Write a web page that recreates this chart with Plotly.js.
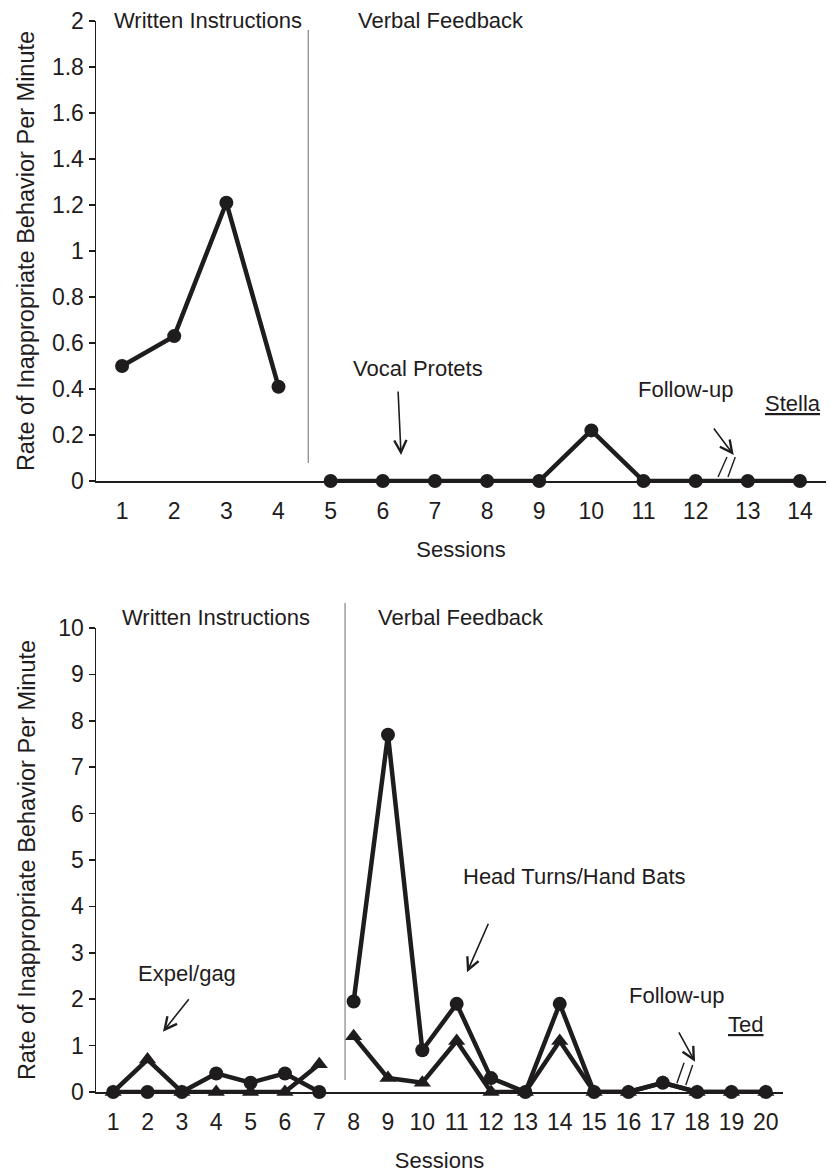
<!DOCTYPE html>
<html>
<head>
<meta charset="utf-8">
<script src="https://cdn.plot.ly/plotly-3.0.1.min.js"></script>
<style>html,body{margin:0;padding:0;background:#fff}#chart{width:830px;height:1173px}</style>
</head>
<body>
<div id="chart"></div>
<script>
// ---- Data ----
const stellaSessions = [1,2,3,4,5,6,7,8,9,10,11,12,13,14];
const stellaVocalProtests = [0.5,0.63,1.21,0.41,0,0,0,0,0,0.22,0,0,0,0];
const stellaBaselineCount = 4;

const tedSessions = [1,2,3,4,5,6,7,8,9,10,11,12,13,14,15,16,17,18,19,20];
const tedHeadTurnsHandBats = [0,0,0,0.4,0.2,0.4,0,1.95,7.7,0.9,1.9,0.3,0,1.9,0,0,0.2,0,0,0];
const tedExpelGag = [0,0.7,0,0,0,0,0.6,1.2,0.3,0.2,1.1,0,0,1.1,0,0,0.2,0,0,0];
const tedBaselineCount = 7;

const stellaYTicks = [0,0.2,0.4,0.6,0.8,1,1.2,1.4,1.6,1.8,2];
const stellaYTickText = ['0','0.2','0.4','0.6','0.8','1','1.2','1.4','1.6','1.8','2'];
const tedYTicks = [0,1,2,3,4,5,6,7,8,9,10];
const tedYTickText = ['0','1','2','3','4','5','6','7','8','9','10'];

const yTitle = 'Rate of Inappropriate Behavior Per Minute';
const xTitle = 'Sessions';

// ---- Styling helpers ----
const W = 830, H = 1173;
const px = v => v / W;
const py = v => 1 - v / H;
const ink = '#1f1c1d';
const FONT = 'Liberation Sans, Arial, Helvetica, sans-serif';

function seg(xs, ys, from, to, symbol, xa, ya, name) {
  return {
    type: 'scatter', mode: 'lines+markers', name: name,
    x: xs.slice(from, to), y: ys.slice(from, to),
    xaxis: xa, yaxis: ya, cliponaxis: false,
    line: {color: ink, width: 4.5},
    marker: {symbol: symbol, size: symbol === 'circle' ? 14 : 15, color: ink},
    hoverinfo: 'x+y'
  };
}

const traces = [
  seg(stellaSessions, stellaVocalProtests, 0, stellaBaselineCount, 'circle', 'x', 'y', 'Vocal Protests'),
  seg(stellaSessions, stellaVocalProtests, stellaBaselineCount, stellaSessions.length, 'circle', 'x', 'y', 'Vocal Protests'),
  seg(tedSessions, tedExpelGag, 0, tedBaselineCount, 'triangle-up', 'x2', 'y2', 'Expel/gag'),
  seg(tedSessions, tedExpelGag, tedBaselineCount, tedSessions.length, 'triangle-up', 'x2', 'y2', 'Expel/gag'),
  seg(tedSessions, tedHeadTurnsHandBats, 0, tedBaselineCount, 'circle', 'x2', 'y2', 'Head Turns/Hand Bats'),
  seg(tedSessions, tedHeadTurnsHandBats, tedBaselineCount, tedSessions.length, 'circle', 'x2', 'y2', 'Head Turns/Hand Bats')
];

const stellaBounds = stellaSessions.map(s => s - 0.5).concat([stellaSessions[stellaSessions.length-1] + 0.5]);
const tedBounds = tedSessions.map(s => s - 0.5).concat([tedSessions[tedSessions.length-1] + 0.5]);

const topDomainX = [px(96), px(826)];
const botDomainX = [px(96), px(783)];

const baseX = {
  showgrid: false, zeroline: false, showline: true, linecolor: ink, linewidth: 1.5,
  ticks: '', ticklabelstandoff: 9, tickfont: {size: 23, color: ink}, tickmode: 'array', fixedrange: true
};
const tickOverlay = {
  showgrid: false, zeroline: false, showline: false, showticklabels: false,
  ticks: 'outside', ticklen: 6, tickwidth: 1.5, tickcolor: ink, tickmode: 'array', fixedrange: true
};
const baseY = {
  showgrid: false, zeroline: false, showline: true, linecolor: ink, linewidth: 1.5,
  ticks: 'outside', ticklen: 6, tickwidth: 1.5, tickcolor: ink,
  tickfont: {size: 23, color: ink}, tickmode: 'array', fixedrange: true
};

function txt(t, x, y, size) {
  return {text: t, xref: 'paper', yref: 'paper', x: px(x), y: py(y),
    xanchor: 'center', yanchor: 'middle', showarrow: false,
    font: {size: size || 22, color: ink, family: FONT}};
}
function arrow(xref, yref, x, y, ax, ay) {
  return {text: '', xref: xref, yref: yref, x: x, y: y, ax: ax, ay: ay,
    showarrow: true, arrowhead: 5, arrowsize: 1.5, arrowwidth: 1.6, arrowcolor: ink};
}
function brk(xref, yref, x0, y0, x1, y1) {
  return {type: 'line', xref: xref, yref: yref, x0: x0, y0: y0, x1: x1, y1: y1,
    line: {color: ink, width: 1.4}};
}

const underlined = {size: 22, color: ink, family: FONT, lineposition: 'under'};

const annotations = [
  txt('Written Instructions', 208, 21),
  txt('Verbal Feedback', 441, 21),
  txt('Vocal Protets', 418, 368),
  txt('Follow-up', 685, 390),
  Object.assign(txt('Stella', 793, 403), {font: underlined}),
  txt('Written Instructions', 216, 617),
  txt('Verbal Feedback', 461, 617),
  txt('Expel/gag', 187, 973),
  txt('Head Turns/Hand Bats', 574, 876),
  txt('Follow-up', 676, 995),
  Object.assign(txt('Ted', 745, 1024), {font: underlined}),
  arrow('x', 'y', 6.35, 0.113, -3, -65),
  arrow('x', 'y', 12.73, 0.113, -21, -28),
  arrow('x2', 'y2', 2.45, 1.30, 27, -34),
  arrow('x2', 'y2', 11.3, 2.58, 22, -50),
  arrow('x2', 'y2', 17.94, 0.65, -17, -31)
];

const shapes = [
  {type: 'line', xref: 'x', yref: 'paper', x0: 4.57, x1: 4.57, y0: py(463), y1: py(30),
   line: {color: '#6b6b6b', width: 1}},
  {type: 'line', xref: 'x2', yref: 'paper', x0: 7.75, x1: 7.75, y0: py(1080), y1: py(603),
   line: {color: '#6b6b6b', width: 1}},
  brk('x', 'y', 12.43, 0.017, 12.6, 0.104),
  brk('x', 'y', 12.62, 0.017, 12.76, 0.104),
  brk('x2', 'y2', 17.41, 0.19, 17.62, 0.63),
  brk('x2', 'y2', 17.67, 0.15, 17.87, 0.58)
];

const layout = {
  width: W, height: H,
  margin: {l: 0, r: 0, t: 0, b: 0},
  paper_bgcolor: '#ffffff', plot_bgcolor: 'rgba(0,0,0,0)',
  showlegend: false,
  font: {family: FONT, color: ink},
  xaxis: Object.assign({}, baseX, {domain: topDomainX, range: [0.5, 14.5], anchor: 'y',
    tickvals: stellaSessions, ticktext: stellaSessions.map(String),
    title: {text: xTitle, font: {size: 22, color: ink}, standoff: 18}}),
  xaxis3: Object.assign({}, tickOverlay, {domain: topDomainX, range: [0.5, 14.5], anchor: 'y',
    overlaying: 'x', tickvals: stellaBounds}),
  yaxis: Object.assign({}, baseY, {domain: [1 - 481/H, 1 - 21/H], range: [0, 2], anchor: 'x',
    tickvals: stellaYTicks, ticktext: stellaYTickText,
    title: {text: yTitle, font: {size: 23.5, color: ink}, standoff: 10}}),
  xaxis2: Object.assign({}, baseX, {domain: botDomainX, range: [0.5, 20.5], anchor: 'y2',
    tickvals: tedSessions, ticktext: tedSessions.map(String),
    title: {text: xTitle, font: {size: 22, color: ink}, standoff: 18}}),
  xaxis4: Object.assign({}, tickOverlay, {domain: botDomainX, range: [0.5, 20.5], anchor: 'y2',
    overlaying: 'x2', tickvals: tedBounds}),
  yaxis2: Object.assign({}, baseY, {domain: [1 - 1092/H, 1 - 628/H], range: [0, 10], anchor: 'x2',
    tickvals: tedYTicks, ticktext: tedYTickText,
    title: {text: yTitle, font: {size: 23.5, color: ink}, standoff: 16}}),
  annotations: annotations,
  shapes: shapes
};

Plotly.newPlot('chart', traces, layout, {displayModeBar: false, staticPlot: true});
</script>
</body>
</html>
